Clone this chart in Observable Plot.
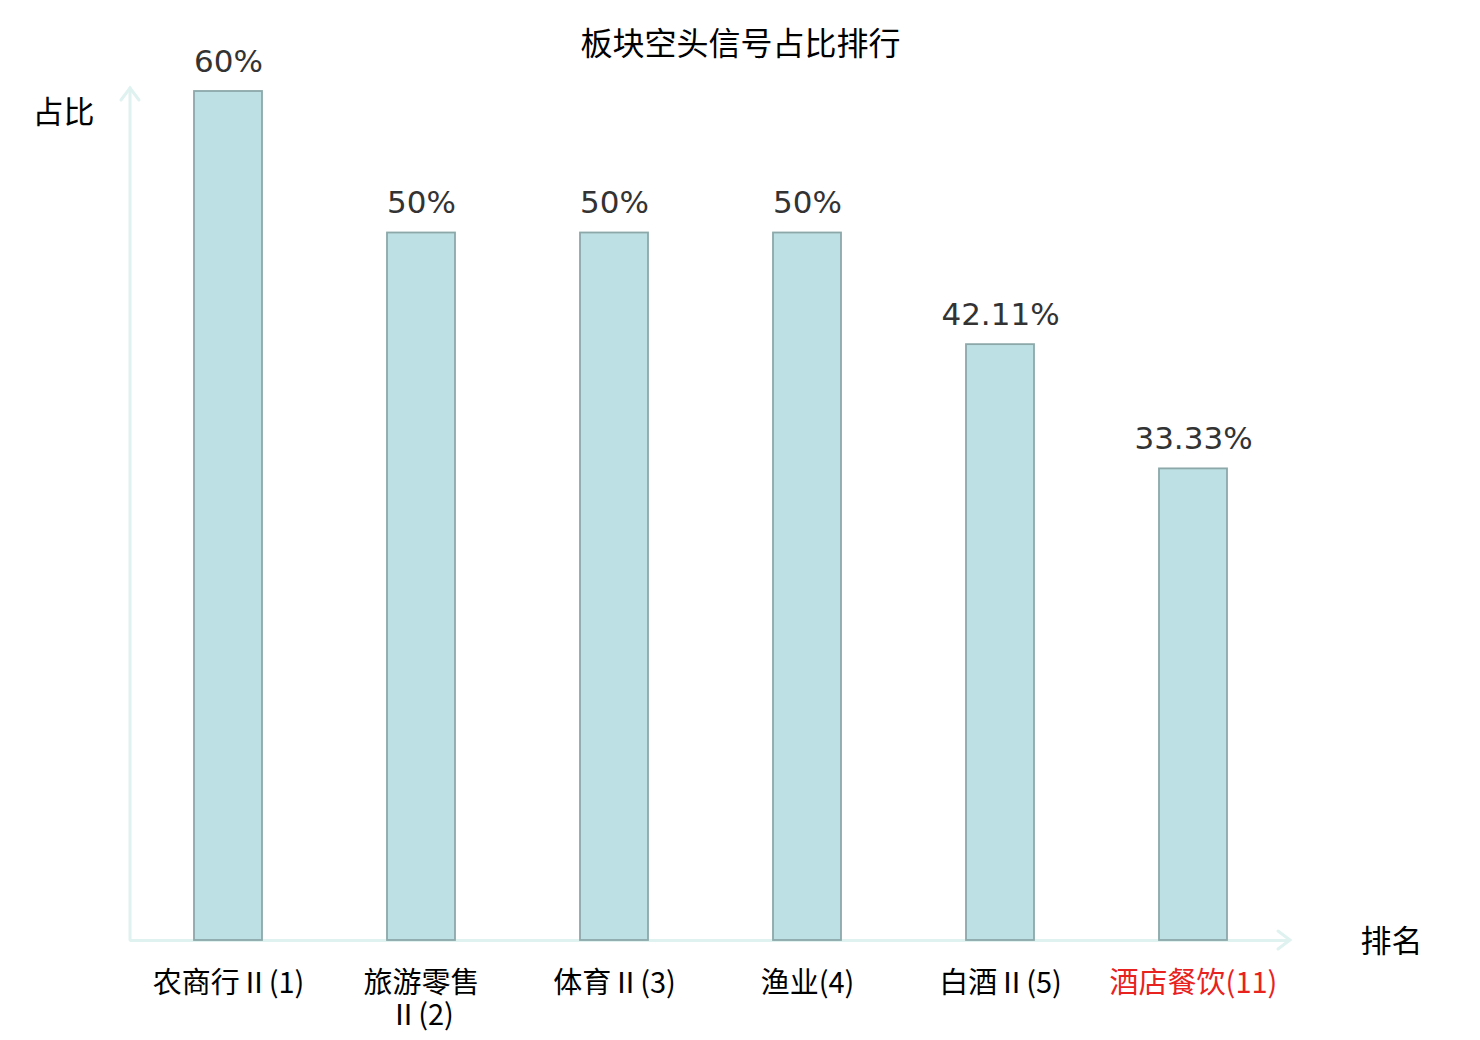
<!DOCTYPE html>
<html>
<head>
<meta charset="utf-8">
<script src="https://cdn.jsdelivr.net/npm/d3@7"></script>
<script src="https://cdn.jsdelivr.net/npm/@observablehq/plot@0.6"></script>
<style>
  html, body { margin: 0; padding: 0; background: #fff; }
</style>
</head>
<body>
<div id="chart"></div>
<script>
const titleText = "板块空头信号占比排行";
const yAxisName = "占比";
const xAxisName = "排名";
const categories = ["农商行Ⅱ(1)", "旅游零售Ⅱ(2)", "体育Ⅱ(3)", "渔业(4)", "白酒Ⅱ(5)", "酒店餐饮(11)"];
const tickLabels = ["农商行Ⅱ(1)", "旅游零售\nⅡ(2)", "体育Ⅱ(3)", "渔业(4)", "白酒Ⅱ(5)", "酒店餐饮(11)"];
const tickColors = ["#000000", "#000000", "#000000", "#000000", "#000000", "#e8221e"];
const values = [60, 50, 50, 50, 42.11, 33.33];
const valueLabels = ["60%", "50%", "50%", "50%", "42.11%", "33.33%"];

const data = categories.map((c, i) => ({cat: c, value: values[i], label: valueLabels[i], tick: tickLabels[i], color: tickColors[i]}));

const cjk = "'Noto Sans CJK SC', 'Noto Sans', sans-serif";
const tickFont = "'DejaVu Sans ExtraLight', 'Noto Sans CJK SC', sans-serif";

const chart = Plot.plot({
  width: 1480,
  height: 1040,
  marginLeft: 130,
  marginRight: 190,
  marginTop: 91,
  marginBottom: 100,
  style: {fontFamily: cjk, background: "#fff"},
  x: {domain: categories, paddingInner: 0.648, paddingOuter: 0.324, axis: null},
  y: {domain: [0, 60], axis: null},
  color: {type: "identity"},
  marks: [
    Plot.ruleY([0], {stroke: "#dff2ef", strokeWidth: 3}),
    Plot.barY(data, {x: "cat", y: "value", fill: "#bce0e3", stroke: "#8ca8a9", strokeWidth: 1.8}),
    Plot.text(data, {x: "cat", y: "value", text: "label", lineAnchor: "bottom", dy: -20, fontSize: 31, fill: "#333", fontFamily: "'DejaVu Sans', sans-serif"}),
    Plot.text(data, {x: "cat", text: "tick", frameAnchor: "bottom", lineAnchor: "top", dy: 30, fontSize: 29, fill: "color", lineHeight: 1.1, fontFamily: tickFont}),
    Plot.text([titleText], {text: d => d, frameAnchor: "top", dx: 30, dy: -59, fontSize: 32, fill: "#000", fontFamily: cjk}),
    Plot.text([yAxisName], {text: d => d, frameAnchor: "top-left", dx: -67, dy: 9, textAnchor: "middle", fontSize: 31, fill: "#000", fontFamily: cjk}),
    Plot.text([xAxisName], {text: d => d, frameAnchor: "bottom-right", dx: 101, dy: 11, textAnchor: "middle", fontSize: 31, fill: "#000", fontFamily: cjk})
  ]
});

// axis arrows derived from scales
const xs = chart.scale("x");
const ys = chart.scale("y");
const axLeft = xs.range[0];
const axRight = xs.range[1];
const axBottom = ys.apply(0);
const axTop = ys.apply(60) - 3;
const g = d3.select(chart).append("g").attr("fill", "none").attr("stroke", "#dff2ef").attr("stroke-width", 3).attr("stroke-linecap", "round");
g.append("line").attr("x1", axLeft).attr("x2", axLeft).attr("y1", axBottom).attr("y2", axTop);
g.append("path").attr("d", `M${axLeft - 9},${axTop + 12}L${axLeft},${axTop}L${axLeft + 9},${axTop + 12}`);
g.append("path").attr("d", `M${axRight - 12},${axBottom - 9}L${axRight},${axBottom}L${axRight - 12},${axBottom + 9}`);
g.lower();

document.getElementById("chart").appendChild(chart);
</script>
</body>
</html>
